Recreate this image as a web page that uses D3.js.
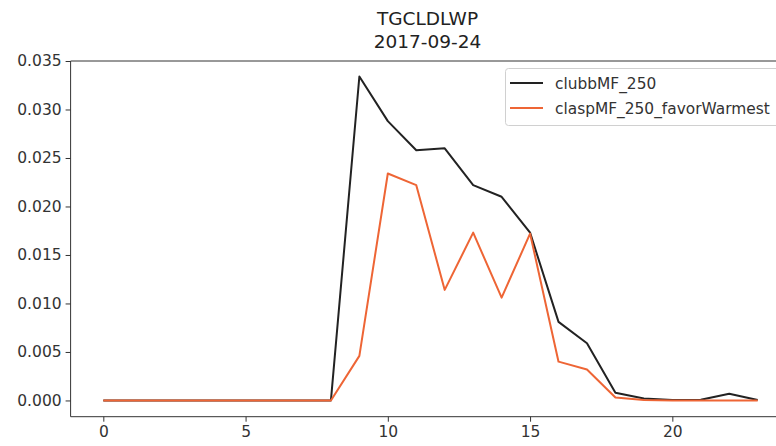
<!DOCTYPE html>
<html>
<head>
<meta charset="utf-8">
<script src="https://cdn.jsdelivr.net/npm/d3@7"></script>
<style>
  html, body { margin: 0; padding: 0; background: #fff; }
  svg { display: block; font-family: "DejaVu Sans", sans-serif; }
</style>
</head>
<body>
<svg id="chart" width="776" height="446"></svg>
<script>
// Hourly TGCLDLWP for 2017-09-24, two model configurations
const hours = d3.range(0, 24);
const clubbMF = [0, 0, 0, 0, 0, 0, 0, 0, 0, 0.0334, 0.0288, 0.0258, 0.0260, 0.0222, 0.0210, 0.0173,
                 0.0081, 0.0059, 0.0008, 0.0002, 0.00005, 0.00007, 0.0007, 0.00005];
const claspMF = [0, 0, 0, 0, 0, 0, 0, 0, 0, 0.0046, 0.0234, 0.0222, 0.0114, 0.0173, 0.0106, 0.0172,
                 0.0040, 0.0032, 0.0003, 0.00005, 0, 0, 0, 0];
const seriesNames = ["clubbMF_250", "claspMF_250_favorWarmest"];
const seriesColors = ["#222222", "#ee6535"];
const xTicks = [0, 5, 10, 15, 20];
const yTicks = [0, 0.005, 0.010, 0.015, 0.020, 0.025, 0.030, 0.035];
const titleLines = ["TGCLDLWP", "2017-09-24"];

const svg = d3.select("#chart");
const plotL = 70.6, plotR = 790.4, plotT = 61, plotB = 416.7;

const x = d3.scaleLinear().domain([-1.15, 24.15]).range([plotL, plotR]);
const y = d3.scaleLinear().domain([-0.001675, 0.035]).range([plotB, plotT]);

// axes frame
const frame = svg.append("g").attr("stroke", "#333").attr("stroke-width", 1).attr("fill", "none");
frame.append("line").attr("x1", plotL).attr("x2", plotR).attr("y1", plotT).attr("y2", plotT);
frame.append("line").attr("x1", plotL).attr("x2", plotR).attr("y1", plotB).attr("y2", plotB);
frame.append("line").attr("x1", plotL).attr("x2", plotL).attr("y1", plotT).attr("y2", plotB);
frame.append("line").attr("x1", plotR).attr("x2", plotR).attr("y1", plotT).attr("y2", plotB);

const xAxis = svg.append("g")
  .attr("transform", `translate(0,${plotB})`)
  .call(d3.axisBottom(x).tickValues(xTicks).tickFormat(d3.format("d")).tickSize(5).tickPadding(4));
const yAxis = svg.append("g")
  .attr("transform", `translate(${plotL},0)`)
  .call(d3.axisLeft(y).tickValues(yTicks).tickFormat(d3.format(".3f")).tickSize(5).tickPadding(4));
[xAxis, yAxis].forEach(g => {
  g.select(".domain").remove();
  g.selectAll(".tick line").attr("stroke", "#333");
  g.selectAll(".tick text").attr("fill", "#333").style("font-size", "15.5px")
    .style("font-family", "'DejaVu Sans', sans-serif");
});

// series lines
const line = d3.line().x((d, i) => x(hours[i])).y(d => y(d));
[clubbMF, claspMF].forEach((vals, k) => {
  svg.append("path")
    .datum(vals)
    .attr("fill", "none")
    .attr("stroke", seriesColors[k])
    .attr("stroke-width", 2)
    .attr("stroke-linejoin", "round")
    .attr("d", line);
});

// title
svg.append("g").selectAll("text").data(titleLines).join("text")
  .attr("x", (plotL + plotR) / 2 - 3)
  .attr("y", (d, i) => 25 + i * 23)
  .attr("text-anchor", "middle")
  .attr("fill", "#222")
  .style("font-size", "18.5px")
  .text(d => d);

// legend
const legend = svg.append("g");
legend.append("rect")
  .attr("x", 505.5).attr("y", 68.5).attr("width", 285).attr("height", 57)
  .attr("rx", 3)
  .attr("fill", "#fff").attr("fill-opacity", 0.8)
  .attr("stroke", "#d0d0d0");
seriesNames.forEach((name, k) => {
  const ly = 83 + k * 25;
  legend.append("line")
    .attr("x1", 510).attr("x2", 543).attr("y1", ly).attr("y2", ly)
    .attr("stroke", seriesColors[k]).attr("stroke-width", 2);
  legend.append("text")
    .attr("x", 555).attr("y", ly + 5.5)
    .attr("fill", "#333")
    .style("font-size", "15.4px")
    .text(name);
});
</script>
</body>
</html>
